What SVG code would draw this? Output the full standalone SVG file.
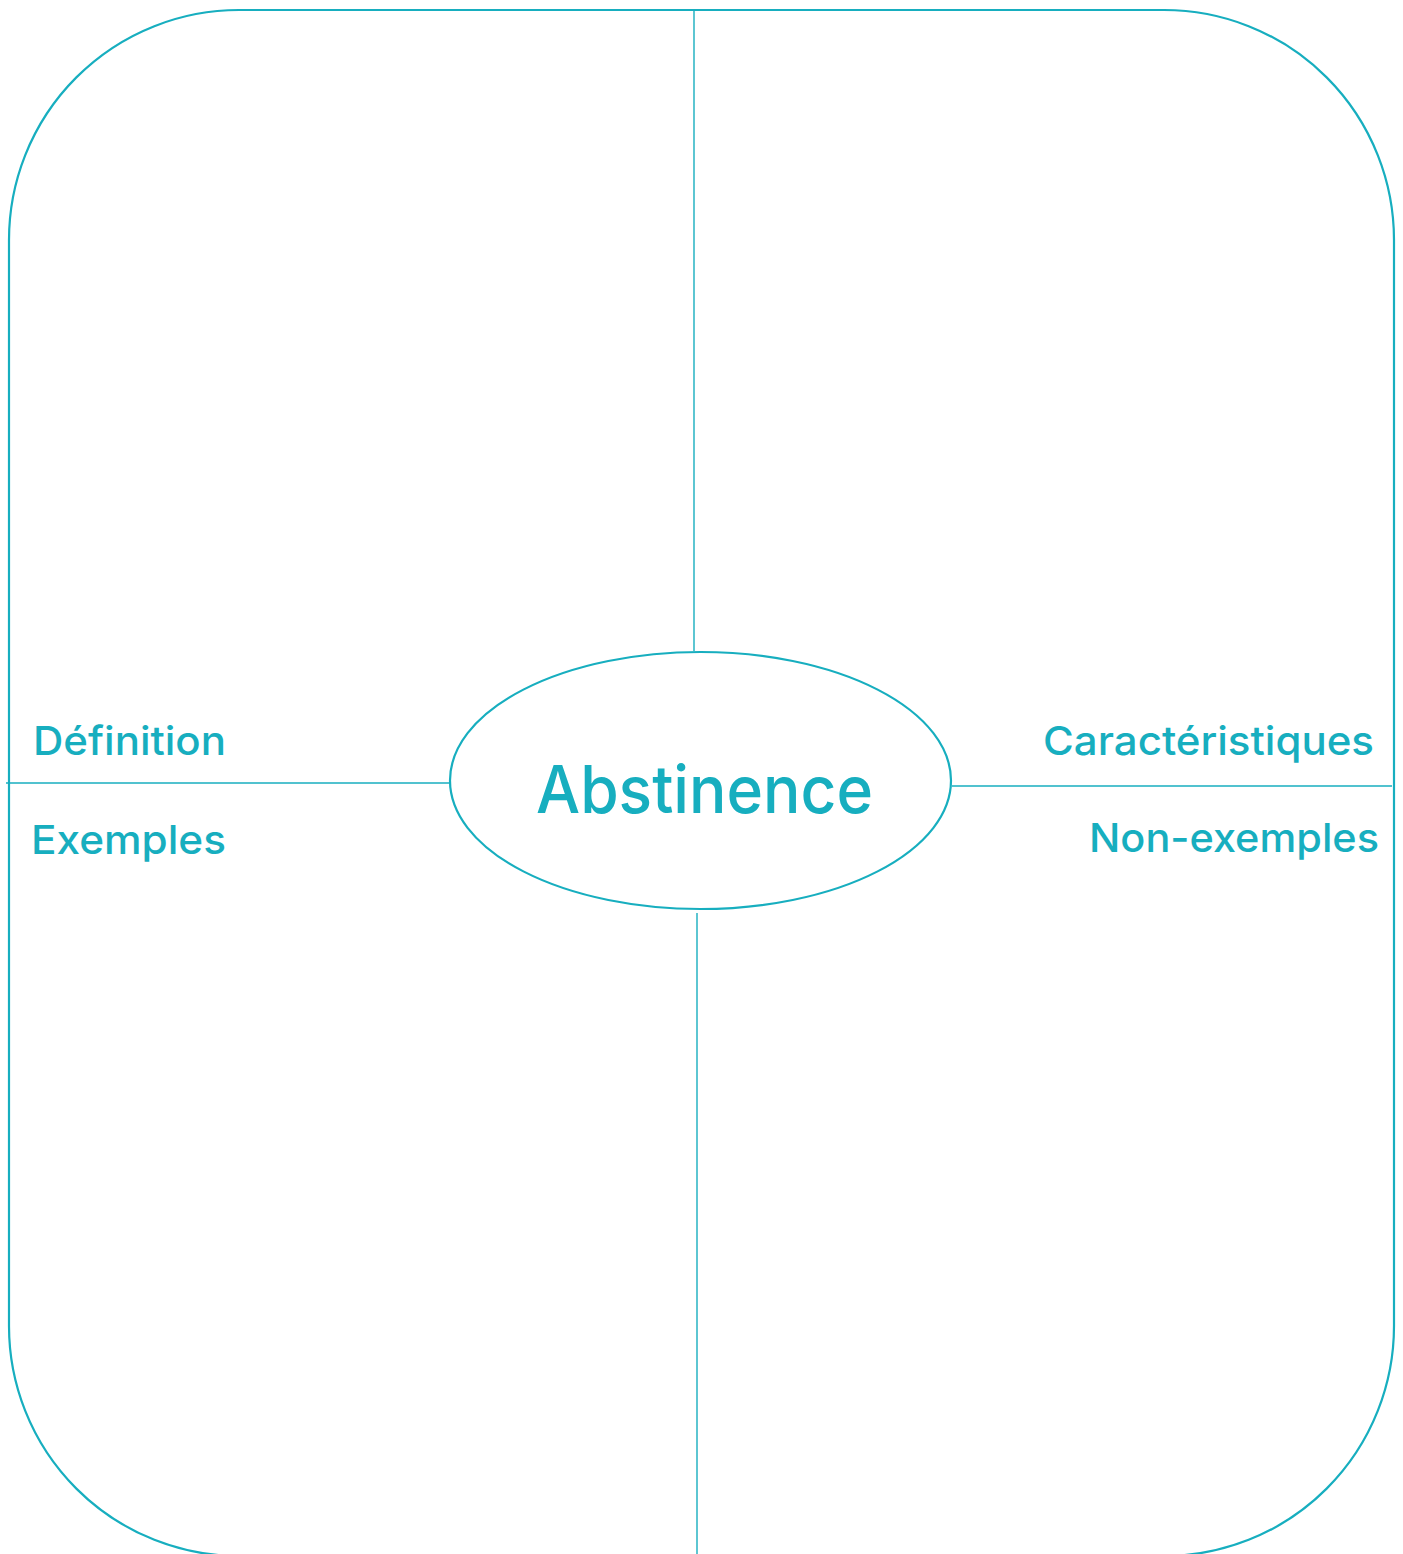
<svg xmlns="http://www.w3.org/2000/svg" width="1403" height="1554" viewBox="0 0 1403 1554">
<style>
.frame{fill:none;stroke:#17AEBF;stroke-width:2.2}
.ln{stroke:#17AEBF;stroke-width:1.4;fill:none}
.lbl{fill:#17AEBF;font-family:Inter,"Liberation Sans",Arial,sans-serif;font-size:40px;font-weight:500}
.title{fill:#17AEBF;font-family:Inter,"Liberation Sans",Arial,sans-serif;font-size:66px;font-weight:500}
</style>
<rect width="1403" height="1554" fill="#ffffff"/>
<g id="frame"><rect class="frame" x="9" y="10" width="1385" height="1546" rx="230" ry="230"/></g>
<g id="connectors">
<line class="ln" x1="694" y1="10" x2="694" y2="651"/>
<line class="ln" x1="697" y1="913" x2="697" y2="1554"/>
<line class="ln" x1="6" y1="783" x2="449" y2="783"/>
<line class="ln" x1="952" y1="786" x2="1392" y2="786"/>
</g>
<g id="center">
<ellipse class="frame" cx="700.5" cy="780.5" rx="250.5" ry="128.5"/>
<text class="title" x="536" y="813" textLength="337" lengthAdjust="spacingAndGlyphs">Abstinence</text>
</g>
<g id="definition"><text class="lbl" x="33" y="755" textLength="193" lengthAdjust="spacingAndGlyphs">Définition</text></g>
<g id="exemples"><text class="lbl" x="31" y="854" textLength="195" lengthAdjust="spacingAndGlyphs">Exemples</text></g>
<g id="caracteristiques"><text class="lbl" x="1043" y="755" textLength="331" lengthAdjust="spacingAndGlyphs">Caractéristiques</text></g>
<g id="nonexemples"><text class="lbl" x="1089" y="852" textLength="290" lengthAdjust="spacingAndGlyphs">Non-exemples</text></g>
</svg>
